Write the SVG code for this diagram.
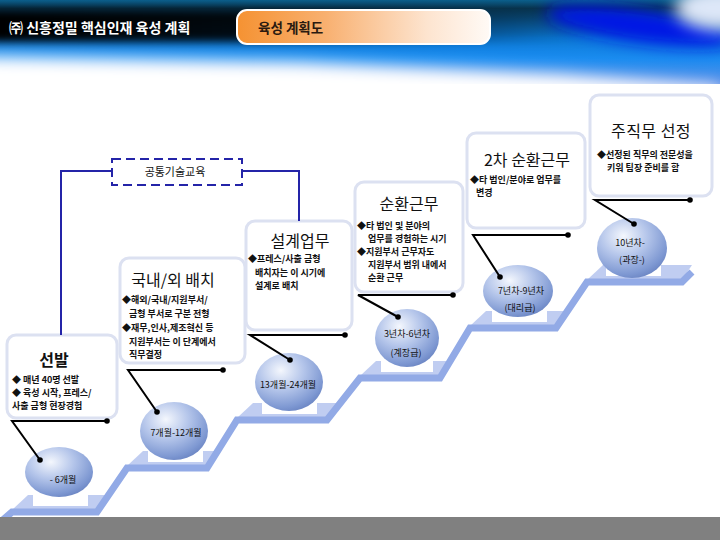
<svg xmlns="http://www.w3.org/2000/svg" width="720" height="540" viewBox="0 0 720 540">
<style>
.kr{font-family:"Noto Sans CJK KR","Noto Sans",sans-serif}
.title{font-size:16px;fill:#111;text-anchor:middle}
.body{font-size:9px;font-weight:bold;fill:#111}
.sp{font-size:9px;fill:#111;text-anchor:middle}
.box{fill:#fff;stroke:#dce1f1;stroke-width:3}
.conn{stroke:#000;stroke-width:2;fill:none}
.blue{stroke:#2424a8;stroke-width:2;fill:none}
.tread{fill:#c0cdf1}
.ped{fill:#fff}
</style>
<defs>
<linearGradient id="hdrV" x1="0" y1="0" x2="0" y2="1">
<stop offset="0" stop-color="#0b5f8c"/>
<stop offset="0.1" stop-color="#083550"/>
<stop offset="0.45" stop-color="#0a7ad8"/>
<stop offset="0.7" stop-color="#1a8cf0"/>
<stop offset="1" stop-color="#5a8ee8"/>
</linearGradient>
<linearGradient id="blackH" x1="0" y1="0" x2="1" y2="0">
<stop offset="0" stop-color="#000" stop-opacity="1"/>
<stop offset="0.35" stop-color="#000" stop-opacity="0.9"/>
<stop offset="0.6" stop-color="#000" stop-opacity="0.35"/>
<stop offset="0.85" stop-color="#000" stop-opacity="0"/>
</linearGradient>
<linearGradient id="tab" x1="0" y1="0" x2="1" y2="0">
<stop offset="0" stop-color="#f59232"/>
<stop offset="0.35" stop-color="#f8b070"/>
<stop offset="0.75" stop-color="#fde4cf"/>
<stop offset="1" stop-color="#fffaf6"/>
</linearGradient>
<radialGradient id="sph" cx="0.38" cy="0.3" r="0.75">
<stop offset="0" stop-color="#f4f7fd"/>
<stop offset="0.45" stop-color="#b4c5ea"/>
<stop offset="0.85" stop-color="#7e98d2"/>
<stop offset="1" stop-color="#6a84c2"/>
</radialGradient>
<filter id="blur4" x="-20%" y="-50%" width="140%" height="200%"><feGaussianBlur stdDeviation="4"/></filter>
<filter id="blur8" x="-30%" y="-80%" width="160%" height="260%"><feGaussianBlur stdDeviation="8"/></filter>
<clipPath id="hclip"><rect x="0" y="0" width="720" height="84"/></clipPath>
</defs>

<g id="header">
<g clip-path="url(#hclip)">
<rect x="0" y="0" width="720" height="84" fill="url(#hdrV)"/>
<rect x="-10" y="10" width="720" height="32" fill="url(#blackH)" filter="url(#blur4)"/>
<ellipse cx="640" cy="26" rx="95" ry="16" fill="#0016e6" filter="url(#blur8)" transform="rotate(8 640 26)"/>
<ellipse cx="720" cy="8" rx="45" ry="22" fill="#dde7f8" filter="url(#blur8)"/>
<path d="M-20,56 L300,62 L560,74 L720,86 L720,110 L-20,110 Z" fill="#fff" filter="url(#blur8)"/>
</g>
<text x="9" y="33" class="kr" font-size="14" font-weight="bold" fill="#fff">㈜ 신흥정밀 핵심인재 육성 계획</text>
<rect x="237" y="10" width="253" height="34" rx="10" fill="url(#tab)" stroke="#fff" stroke-width="2"/>
<text x="258" y="33" class="kr" font-size="13.5" font-weight="bold" fill="#2a1a10">육성 계획도</text>
</g>

<g id="stairs">
<polygon class="tread" points="12,510 28,495 107,495 97,510"/>
<polygon class="tread" points="127,466 143,451 217,451 207,466"/>
<polygon class="tread" points="237,418 253,403 337,403 327,418"/>
<polygon class="tread" points="360,376 376,361 450,361 440,376"/>
<polygon class="tread" points="470,326 486,311 566,311 556,326"/>
<polygon class="tread" points="587,280 603,265 692,265 682,280"/>
<rect class="ped" x="33" y="495" width="55" height="11"/>
<rect class="ped" x="148" y="451" width="55" height="11"/>
<rect class="ped" x="262" y="403" width="55" height="11"/>
<rect class="ped" x="381" y="361" width="52" height="11"/>
<rect class="ped" x="492" y="311" width="55" height="11"/>
<rect class="ped" x="606" y="265" width="55" height="11"/>
<polyline points="-2,524 12,512 97,512 127,468 207,468 237,420 327,420 360,378 440,378 470,328 556,328 587,282 682,282 692,272" fill="none" stroke="#92aae6" stroke-width="7" stroke-linejoin="miter"/>
</g>

<g id="sphere1"><ellipse cx="59" cy="472" rx="34" ry="25" fill="url(#sph)"/><text x="63" y="483" class="kr sp">- 6개월</text></g>
<g id="sphere2"><ellipse cx="174" cy="431" rx="34" ry="29" fill="url(#sph)"/><text x="176" y="436" class="kr sp">7개월-12개월</text></g>
<g id="sphere3"><ellipse cx="289" cy="382" rx="34" ry="29" fill="url(#sph)"/><text x="288" y="388" class="kr sp">13개월-24개월</text></g>
<g id="sphere4"><ellipse cx="407" cy="338" rx="32" ry="29" fill="url(#sph)"/><text x="407" y="337" class="kr sp">3년차-6년차</text><text x="406" y="356" class="kr sp">(계장급)</text></g>
<g id="sphere5"><ellipse cx="518" cy="291" rx="35" ry="26" fill="url(#sph)"/><text x="521" y="294" class="kr sp">7년차-9년차</text><text x="520" y="311" class="kr sp">(대리급)</text></g>
<g id="sphere6"><ellipse cx="632" cy="248" rx="35" ry="30" fill="url(#sph)"/><text x="630" y="246" class="kr sp">10년차-</text><text x="632" y="263" class="kr sp">(과장-)</text></g>

<g id="box-seonbal">
<rect class="box" x="7" y="335" width="110" height="83" rx="9"/>
<text x="54" y="366" class="kr title" font-weight="bold">선발</text>
<text x="12" y="383" class="kr body">◆ 매년 40명 선발</text>
<text x="12" y="396" class="kr body">◆ 육성 시작, 프레스/</text>
<text x="12" y="409" class="kr body">사출 금형 현장경험</text>
</g>

<g id="box-baechi">
<rect class="box" x="120" y="258" width="125" height="105" rx="9"/>
<text x="173" y="286" class="kr title" font-size="15">국내/외 배치</text>
<text x="122" y="303" class="kr body">◆해외/국내/지원부서/</text>
<text x="129" y="317" class="kr body">금형 부서로 구분 전형</text>
<text x="122" y="331" class="kr body">◆재무,인사,제조혁신 등</text>
<text x="129" y="345" class="kr body">지원부서는 이 단계에서</text>
<text x="129" y="358" class="kr body">직무결정</text>
</g>

<g id="box-seolgye">
<rect class="box" x="246" y="221" width="106" height="109" rx="9"/>
<text x="300" y="247" class="kr title">설계업무</text>
<text x="248" y="262" class="kr body">◆프레스/사출 금형</text>
<text x="255" y="276" class="kr body">배치자는 이 시기에</text>
<text x="255" y="289" class="kr body">설계로 배치</text>
</g>

<g id="box-sunhwan">
<rect class="box" x="355" y="182" width="108" height="110" rx="9"/>
<text x="409" y="210" class="kr title">순환근무</text>
<text x="357" y="229" class="kr body">◆타 법인 및 분야의</text>
<text x="368" y="242" class="kr body">업무를 경험하는 시기</text>
<text x="357" y="255" class="kr body">◆지원부서 근무자도</text>
<text x="368" y="268" class="kr body">지원부서 범위 내에서</text>
<text x="368" y="281" class="kr body">순환 근무</text>
</g>

<g id="box-sunhwan2">
<rect class="box" x="467" y="133" width="118" height="95" rx="9"/>
<text x="527" y="166" class="kr title">2차 순환근무</text>
<text x="470" y="183" class="kr body">◆타 법인/분야로 업무를</text>
<text x="476" y="196" class="kr body">변경</text>
</g>

<g id="box-jujikmu">
<rect class="box" x="590" y="95" width="122" height="101" rx="9"/>
<text x="651" y="137" class="kr title" letter-spacing="0.5">주직무 선정</text>
<text x="597" y="158" class="kr body">◆선정된 직무의 전문성을</text>
<text x="607" y="171" class="kr body">키워 팀장 준비를 함</text>
</g>

<g id="box-common">
<rect x="112" y="159" width="130" height="26" fill="#fff" stroke="#2424a8" stroke-width="2" stroke-dasharray="9,5"/>
<text x="175" y="176" class="kr" font-size="11" fill="#111" text-anchor="middle">공통기술교육</text>
</g>

<g id="connectors">
<polyline class="blue" points="112,171 61,171 61,335"/>
<polyline class="blue" points="243,171 299,171 299,221"/>
<polyline class="conn" points="107,421 12,421 40,460"/>
<polyline class="conn" points="223,370 128,370 157,412"/>
<polyline class="conn" points="345,335 250,335 290,360"/>
<polyline class="conn" points="453,295 358,295 398,317"/>
<polyline class="conn" points="568,235 473,235 500,277"/>
<polyline class="conn" points="690,200 595,200 634,224"/>
<g fill="#000">
<circle cx="107" cy="421" r="2.8"/><circle cx="40" cy="460" r="2.8"/>
<circle cx="223" cy="370" r="2.8"/><circle cx="157" cy="412" r="2.8"/>
<circle cx="345" cy="335" r="2.8"/><circle cx="290" cy="360" r="2.8"/>
<circle cx="453" cy="295" r="2.8"/><circle cx="398" cy="317" r="2.8"/>
<circle cx="568" cy="235" r="2.8"/><circle cx="500" cy="277" r="2.8"/>
<circle cx="690" cy="200" r="2.8"/><circle cx="634" cy="224" r="2.8"/>
</g>
</g>

<rect id="footer" x="0" y="517" width="720" height="23" fill="#808080"/>
</svg>
